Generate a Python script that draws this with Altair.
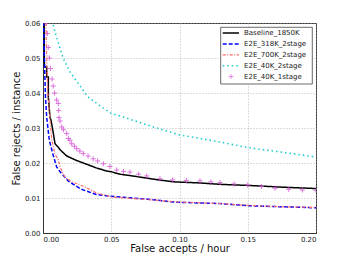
import altair as alt
import pandas as pd

series_names = ["Baseline_1850K", "E2E_318K_2stage", "E2E_700K_2stage",
                "E2E_40K_2stage", "E2E_40K_1stage"]

base_x = [0.0008, 0.0010, 0.0027, 0.0027, 0.0039, 0.0039, 0.0051, 0.0059, 0.0076,
          0.0088, 0.0112, 0.0125, 0.0174, 0.0247, 0.0344, 0.0390, 0.0467, 0.0500,
          0.0564, 0.0674, 0.0857, 0.0967, 0.1150, 0.1297, 0.1500, 0.1750, 0.2000]
base_y = [0.0620, 0.0474, 0.0474, 0.0446, 0.0446, 0.0389, 0.0331, 0.0322, 0.0284,
          0.0255, 0.0245, 0.0238, 0.0220, 0.0207, 0.0193, 0.0186, 0.0177, 0.0175,
          0.0168, 0.0162, 0.0151, 0.0146, 0.0143, 0.0139, 0.0136, 0.0131, 0.0127]

e318_x = [0.0003, 0.0010, 0.0018, 0.0027, 0.0046, 0.0071, 0.0100, 0.0125, 0.0186,
          0.0280, 0.0390, 0.0490, 0.0784, 0.0967, 0.1297, 0.1500, 0.1750, 0.2000]
e318_y = [0.0620, 0.0500, 0.0389, 0.0331, 0.0266, 0.0227, 0.0189, 0.0175, 0.0148,
          0.0125, 0.0110, 0.0105, 0.0096, 0.0088, 0.0084, 0.0078, 0.0075, 0.0072]

e700_x = [0.0020, 0.0027, 0.0035, 0.0050, 0.0064, 0.0088, 0.0112, 0.0125, 0.0161,
          0.0220, 0.0300, 0.0390, 0.0500, 0.0784, 0.0967, 0.1297, 0.1500, 0.1750, 0.2000]
e700_y = [0.0620, 0.0500, 0.0400, 0.0331, 0.0266, 0.0225, 0.0209, 0.0189, 0.0158,
          0.0145, 0.0133, 0.0115, 0.0103, 0.0095, 0.0089, 0.0084, 0.0079, 0.0075, 0.0073]

e40_2_x = [0.0065, 0.0071, 0.0088, 0.0125, 0.0149, 0.0198, 0.0259, 0.0320, 0.0344,
           0.0442, 0.0503, 0.0552, 0.0784, 0.1004, 0.1297, 0.1500, 0.1750, 0.2000]
e40_2_y = [0.0620, 0.0600, 0.0574, 0.0527, 0.0498, 0.0460, 0.0427, 0.0393, 0.0384,
           0.0357, 0.0341, 0.0336, 0.0306, 0.0280, 0.0260, 0.0244, 0.0231, 0.0217]

e40_1_x = [0.0025, 0.0032, 0.0039, 0.0046, 0.0055, 0.0066, 0.0075, 0.0085, 0.0100,
           0.0112, 0.0115, 0.0117, 0.0125, 0.0137, 0.0150, 0.0174, 0.0186, 0.0198,
           0.0210, 0.0230, 0.0247, 0.0270, 0.0295, 0.0330, 0.0368, 0.0400, 0.0442,
           0.0490, 0.0540, 0.0590, 0.0637, 0.0700, 0.0760, 0.0857, 0.0950, 0.1050,
           0.1150, 0.1230, 0.1297, 0.1400, 0.1500, 0.1600, 0.1700, 0.1800, 0.1900, 0.2000]
e40_1_y = [0.0600, 0.0570, 0.0530, 0.0500, 0.0470, 0.0440, 0.0420, 0.0400, 0.0380,
           0.0370, 0.0350, 0.0330, 0.0320, 0.0303, 0.0295, 0.0284, 0.0270, 0.0265,
           0.0255, 0.0248, 0.0241, 0.0234, 0.0227, 0.0220, 0.0212, 0.0206, 0.0198,
           0.0190, 0.0180, 0.0176, 0.0174, 0.0168, 0.0163, 0.0155, 0.0152, 0.0150,
           0.0149, 0.0146, 0.0144, 0.0140, 0.0137, 0.0133, 0.0128, 0.0125, 0.0123, 0.0122]

x_ticks = [0.0, 0.05, 0.10, 0.15, 0.20]
y_ticks = [0.0, 0.01, 0.02, 0.03, 0.04, 0.05, 0.06]

colors = ["#000000", "#0000ff", "#ff6a6a", "#22cccc", "#d54fd5"]
dashes = [[1, 0], [4, 2], [3, 1.5, 1, 1.5], [1.5, 3], [1, 0]]
widths = [1.5, 1.5, 1.2, 1.6, 1.0]

xs = alt.Scale(domain=[0, 0.2], nice=False, zero=False)
ys = alt.Scale(domain=[0, 0.06], nice=False, zero=False)
xenc = alt.X("x:Q", scale=xs, axis=alt.Axis(values=x_ticks, format=".2f",
                                            title="False accepts / hour"))
yenc = alt.Y("y:Q", scale=ys, axis=alt.Axis(values=y_ticks, format=".2f",
                                            title="False rejects / instance"))


def df(xv, yv):
    return pd.DataFrame({"x": xv, "y": yv, "i": list(range(len(xv)))})


line_data = [(base_x, base_y), (e318_x, e318_y), (e700_x, e700_y), (e40_2_x, e40_2_y)]
layers = []
for k, (xv, yv) in enumerate(line_data):
    layers.append(
        alt.Chart(df(xv, yv)).mark_line(
            clip=True, color=colors[k], strokeDash=dashes[k], strokeWidth=widths[k]
        ).encode(x=xenc, y=yenc, order="i:Q")
    )

plus = "M-1,0L1,0M0,-1L0,1"
layers.append(
    alt.Chart(df(e40_1_x, e40_1_y)).mark_point(
        clip=True, shape=plus, filled=False, size=26, strokeWidth=1.0,
        color=colors[4], opacity=0.8
    ).encode(x=xenc, y=yenc)
)

# legend box
one = pd.DataFrame({"a": [0]})
layers.append(
    alt.Chart(one).mark_rect(fill="white", stroke="#444444", strokeWidth=0.8).encode(
        x=alt.value(177.7), x2=alt.value(269.3), y=alt.value(4.3), y2=alt.value(61)
    )
)
for k, name in enumerate(series_names):
    yy = 10 + k * 10.9
    if k < 4:
        layers.append(
            alt.Chart(one).mark_rule(
                color=colors[k], strokeDash=dashes[k], strokeWidth=widths[k]
            ).encode(x=alt.value(179.7), x2=alt.value(196), y=alt.value(yy))
        )
    else:
        layers.append(
            alt.Chart(one).mark_point(
                shape=plus, filled=False, size=22, strokeWidth=0.9,
                color=colors[4], opacity=0.75
            ).encode(x=alt.value(188), y=alt.value(yy))
        )
    layers.append(
        alt.Chart(pd.DataFrame({"t": [name]})).mark_text(
            align="left", baseline="middle", font="DejaVu Sans", fontSize=7,
            color="#222222"
        ).encode(x=alt.value(201), y=alt.value(yy), text="t:N")
    )

chart = alt.layer(*layers).properties(
    width=273, height=210,
    autosize=alt.AutoSizeParams(type="none"),
    padding={"left": 35, "top": 15, "right": 26, "bottom": 22},
).configure_view(
    stroke="#333333", strokeWidth=1
).configure_axis(
    labelFont="DejaVu Sans", labelFontSize=7, labelColor="#222222", labelPadding=3,
    titleFont="DejaVu Sans", titleFontSize=10, titleFontWeight="normal",
    titleColor="#111111", ticks=False, domainColor="#333333",
    gridColor="#aaaaaa", gridDash=[1, 2], gridWidth=0.8,
).configure_axisX(titlePadding=1, labelPadding=2).configure_axisY(titlePadding=3)

chart.save("out.html", embed_options={"renderer": "svg", "actions": False})
